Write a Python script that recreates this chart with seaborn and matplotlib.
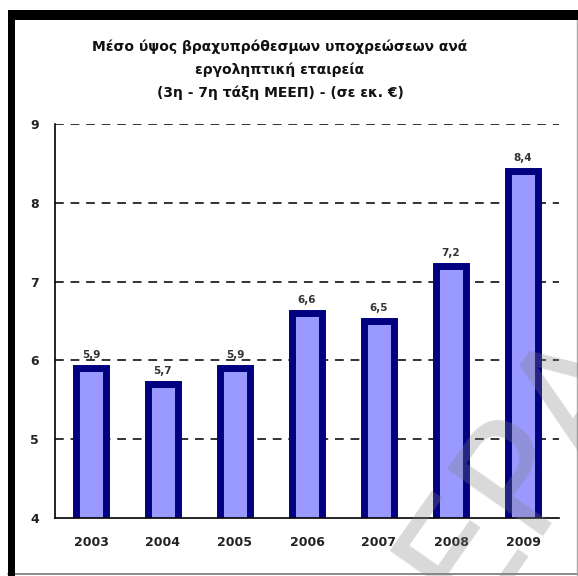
import matplotlib
matplotlib.use("Agg")
import matplotlib.pyplot as plt
from matplotlib.patches import Rectangle
from matplotlib.lines import Line2D
import seaborn as sns
import pandas as pd

years = ["2003", "2004", "2005", "2006", "2007", "2008", "2009"]
values = [5.9, 5.7, 5.9, 6.6, 6.5, 7.2, 8.4]
value_labels = ["5,9", "5,7", "5,9", "6,6", "6,5", "7,2", "8,4"]
y_ticks = [4, 5, 6, 7, 8, 9]
title_lines = [
    "Μέσο ύψος βραχυπρόθεσμων υποχρεώσεων ανά",
    "εργοληπτική εταιρεία",
    "(3η - 7η τάξη ΜΕΕΠ) - (σε εκ. €)",
]

sns.set_theme(style="white")
plt.rcParams["font.family"] = ["DejaVu Sans"]

W, H = 578, 576
fig = plt.figure(figsize=(W / 100, H / 100), dpi=100)
fig.patch.set_facecolor("white")

# axes placed in pixel coordinates
left, right, top, bottom = 55, 559, 124, 518
ax = fig.add_axes([left / W, 1 - bottom / H, (right - left) / W, (bottom - top) / H])

df = pd.DataFrame({"year": years, "value": values})
sns.barplot(data=df, x="year", y="value", ax=ax, color="#9999FF", saturation=1,
            width=0.41, edgecolor="#000080", linewidth=5.0, zorder=3)

ax.set_ylim(4, 9)
ax.set_xlim(-0.5, len(years) - 0.5)
ax.set_yticks(y_ticks)
ax.set_yticklabels([str(t) for t in y_ticks], fontweight="bold", fontsize=9, color="#222222")

# category ticks sit between bars, labels at bar centres
ax.set_xticks([i - 0.5 for i in range(len(years) + 1)])
ax.set_xticklabels([])
ax.set_xticks(range(len(years)), minor=True)
ax.set_xticklabels(years, minor=True, fontweight="bold", fontsize=9, color="#222222")
ax.tick_params(axis="x", which="major", direction="out", length=6, width=1.2, color="black")
ax.tick_params(axis="x", which="minor", length=0, pad=13)
ax.tick_params(axis="y", direction="inout", length=7, width=1.2, color="black", pad=8)

for yv in y_ticks[1:]:
    ax.axhline(yv, color="#333333", linewidth=1.4, linestyle=(0, (4.5, 3.5)), zorder=1)

for s in ["top", "right"]:
    ax.spines[s].set_visible(False)
for s in ["left", "bottom"]:
    ax.spines[s].set_color("black")
    ax.spines[s].set_linewidth(1.2)
    ax.spines[s].set_zorder(4)

ax.set_xlabel("")
ax.set_ylabel("")

for i, (v, lab) in enumerate(zip(values, value_labels)):
    ax.annotate(lab, (i, v), xytext=(0, 6), textcoords="offset points",
                ha="center", va="bottom", fontsize=7.5, fontweight="bold", color="#333333")

# title, one line at a time
for line, ypix in zip(title_lines, [47, 70, 93]):
    fig.text(280 / W, 1 - ypix / H, line, ha="center", va="center",
             fontsize=10, fontweight="bold", color="#111111")

# page frame
fig.patches.append(Rectangle((8 / W, 0), 7 / W, 1 - 10 / H, transform=fig.transFigure,
                             facecolor="black", edgecolor="none", zorder=10))
fig.patches.append(Rectangle((8 / W, 1 - 20 / H), 1 - 8 / W, 10 / H, transform=fig.transFigure,
                             facecolor="black", edgecolor="none", zorder=10))
fig.lines.append(Line2D([8 / W, 1], [2 / H, 2 / H], transform=fig.transFigure,
                        color="#777777", linewidth=1.2))
fig.lines.append(Line2D([1 - 1.5 / W, 1 - 1.5 / W], [0, 1 - 10 / H], transform=fig.transFigure,
                        color="#aaaaaa", linewidth=1))

# watermark
fig.text(470 / W, 1 - 618 / H, "ΕΡΑ", rotation=55, rotation_mode="anchor",
         ha="left", va="baseline", fontsize=115, color="#808080", alpha=0.3, zorder=20)

fig.savefig("out.png", dpi=100)
